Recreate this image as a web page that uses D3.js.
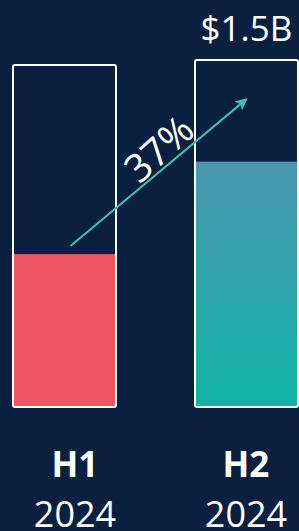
<!DOCTYPE html>
<html>
<head>
<meta charset="utf-8">
<script src="https://cdn.jsdelivr.net/npm/d3@7"></script>
<style>
  html, body { margin: 0; padding: 0; background: #0b1f40; }
  svg { display: block; }
  text { font-family: "Open Sans", "Noto Sans", sans-serif; fill: #fff; }
</style>
</head>
<body>
<svg id="chart"></svg>
<script>
// data
const periods = ['H1', 'H2'];
const years = ['2024', '2024'];
const boxLevels = [98.6, 100];     // outline height, % of full
const fillLevels = [44.1, 70.6];   // filled part, % of full
const valueLabels = ['', '$1.5B'];
const growthLabel = '37%';

const width = 299, height = 531;

const svg = d3.select('#chart')
    .attr('width', width)
    .attr('height', height);

const x = d3.scaleBand()
    .domain(periods)
    .range([12, 299])
    .paddingInner(0.423)
    .paddingOuter(0);

const labelX = d3.scalePoint()
    .domain(periods)
    .range([75, 246]);

const y = d3.scaleLinear()
    .domain([0, 100])
    .range([408, 59]);

const defs = svg.append('defs');
const grad = defs.append('linearGradient')
    .attr('id', 'tealGrad')
    .attr('x1', 0).attr('y1', 0)
    .attr('x2', 0).attr('y2', 1);
grad.append('stop').attr('offset', '0%').attr('stop-color', '#4b96af');
grad.append('stop').attr('offset', '100%').attr('stop-color', '#10b3a5');

const marker = defs.append('marker')
    .attr('id', 'head')
    .attr('viewBox', '0 0 10 10')
    .attr('refX', 9)
    .attr('refY', 5)
    .attr('markerWidth', 6)
    .attr('markerHeight', 6)
    .attr('markerUnits', 'strokeWidth')
    .attr('orient', 'auto');
marker.append('path')
    .attr('d', 'M0,0 L10,5 L0,10 L2.5,5 Z')
    .attr('fill', '#3fc0b6');

const fillColors = ['#f05661', 'url(#tealGrad)'];
const sw = 2;

// fills
svg.selectAll('.fill')
  .data(periods)
  .join('rect')
    .attr('class', 'fill')
    .attr('x', d => x(d) + sw)
    .attr('width', x.bandwidth() - 2 * sw)
    .attr('y', (d, i) => y(fillLevels[i]))
    .attr('height', (d, i) => y(0) - sw - y(fillLevels[i]))
    .attr('fill', (d, i) => fillColors[i]);

// outlines
svg.selectAll('.box')
  .data(periods)
  .join('rect')
    .attr('class', 'box')
    .attr('x', d => x(d) + sw / 2)
    .attr('width', x.bandwidth() - sw)
    .attr('y', (d, i) => y(boxLevels[i]) + sw / 2)
    .attr('height', (d, i) => y(0) - y(boxLevels[i]) - sw)
    .attr('rx', 2)
    .attr('fill', 'none')
    .attr('stroke', '#fff')
    .attr('stroke-width', sw);

// growth arrow
const x1 = x('H1') + x.bandwidth() / 2 + 6;
const y1 = y(fillLevels[0]) - 8;
const x2 = x('H2') + x.bandwidth() / 2;
const y2 = y(88.5);
svg.append('line')
    .attr('x1', x1).attr('y1', y1)
    .attr('x2', x2).attr('y2', y2)
    .attr('stroke', '#3fc0b6')
    .attr('stroke-width', 2)
    .attr('marker-end', 'url(#head)');

svg.append('text')
    .attr('transform', 'translate(159,149) rotate(-42)')
    .attr('text-anchor', 'middle')
    .attr('dy', '0.35em')
    .style('font-size', '39px')
    .style('font-weight', 500)
    .text(growthLabel);

// value label above bar
svg.selectAll('.value')
  .data(periods)
  .join('text')
    .attr('class', 'value')
    .attr('x', d => x(d) + x.bandwidth() / 2)
    .attr('y', 41)
    .attr('text-anchor', 'middle')
    .style('font-size', '35px')
    .text((d, i) => valueLabels[i]);

// period labels
svg.selectAll('.period')
  .data(periods)
  .join('text')
    .attr('class', 'period')
    .attr('x', d => labelX(d))
    .attr('y', 477)
    .attr('text-anchor', 'middle')
    .style('font-size', '35px')
    .style('font-weight', 700)
    .text(d => d);

svg.selectAll('.year')
  .data(periods)
  .join('text')
    .attr('class', 'year')
    .attr('x', d => labelX(d))
    .attr('y', 527)
    .attr('text-anchor', 'middle')
    .style('font-size', '36px')
    .text((d, i) => years[i]);
</script>
</body>
</html>
